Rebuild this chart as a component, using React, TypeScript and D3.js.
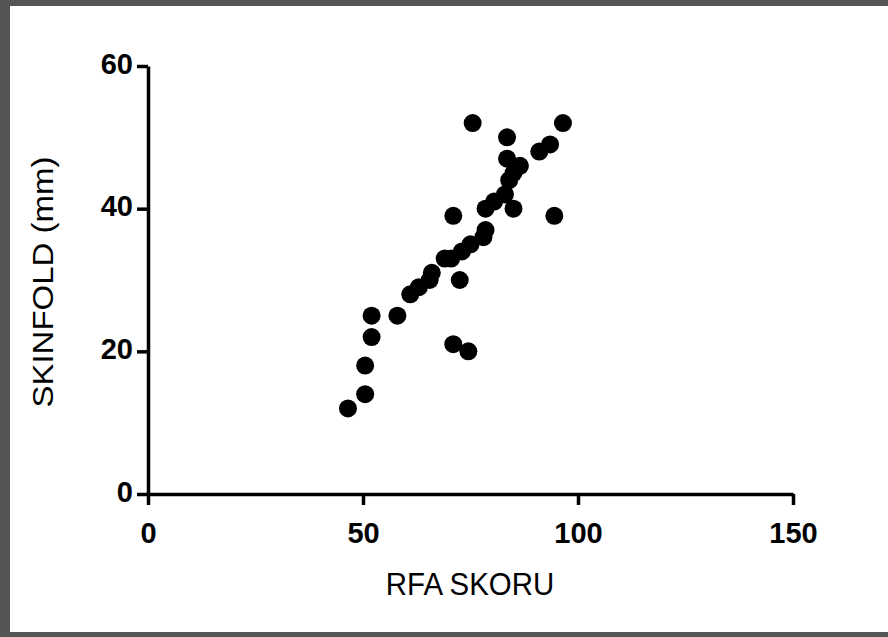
import React, { useEffect, useRef } from "react";
import * as d3 from "d3";

// RFA score vs skinfold thickness
const rfaScore = [
  46.5, 50.5, 50.5, 52, 52, 58, 61, 63, 65.5, 66, 69, 70.5, 72.5, 71, 71, 74.5,
  73, 75, 78, 78.5, 78.5, 80.5, 83, 85, 83.5, 83.5, 75.5, 85, 86.5, 91, 93.5,
  96.5, 94.5, 84,
];
const skinfold = [
  12, 14, 18, 22, 25, 25, 28, 29, 30, 31, 33, 33, 30, 39, 21, 20, 34, 35, 36,
  37, 40, 41, 42, 40, 47, 50, 52, 45, 46, 48, 49, 52, 39, 44,
];
const xTicks = [0, 50, 100, 150];
const yTicks = [0, 20, 40, 60];
const xTitle = "RFA SKORU";
const yTitle = "SKINFOLD (mm)";

const W = 888;
const H = 637;

const App: React.FC = () => {
  const ref = useRef<SVGSVGElement | null>(null);

  useEffect(() => {
    const svg = d3.select(ref.current);
    svg.selectAll("*").remove();

    const x = d3.scaleLinear().domain([0, 150]).range([148, 793]);
    const y = d3.scaleLinear().domain([0, 60]).range([494, 66]);
    const font = "Arial, 'Liberation Sans', sans-serif";

    svg.append("rect").attr("width", W).attr("height", H).attr("fill", "#fff");

    // frame
    const frame = svg.append("g").attr("fill", "#555");
    frame.append("rect").attr("x", 0).attr("y", 0).attr("width", W).attr("height", 6);
    frame.append("rect").attr("x", 0).attr("y", 0).attr("width", 10).attr("height", H);
    frame.append("rect").attr("x", 0).attr("y", H - 5).attr("width", W).attr("height", 5);

    // axes
    const xAxis = svg
      .append("g")
      .attr("transform", `translate(0,${y(0)})`)
      .call(d3.axisBottom(x).tickValues(xTicks).tickSize(11).tickPadding(10).tickSizeOuter(0));
    const yAxis = svg
      .append("g")
      .attr("transform", `translate(${x(0)},0)`)
      .call(d3.axisLeft(y).tickValues(yTicks).tickSize(11).tickPadding(4).tickSizeOuter(0));

    [xAxis, yAxis].forEach((g) => {
      g.select(".domain").attr("stroke", "#000").attr("stroke-width", 3.5);
      g.selectAll(".tick line").attr("stroke", "#000").attr("stroke-width", 3.5);
      g.selectAll("text")
        .attr("fill", "#000")
        .style("font-family", font)
        .style("font-weight", "bold")
        .style("font-size", "29px");
    });
    xAxis.selectAll(".tick text").attr("dy", "0.95em");
    yAxis.selectAll(".tick text").attr("dy", "0.25em");

    // points
    svg
      .append("g")
      .selectAll("circle")
      .data(rfaScore.map((v, i) => [v, skinfold[i]]))
      .join("circle")
      .attr("cx", (d) => x(d[0]))
      .attr("cy", (d) => y(d[1]))
      .attr("r", 9)
      .attr("fill", "#000");

    // titles
    svg
      .append("text")
      .attr("transform", `translate(470,595) scale(0.92,1)`)
      .attr("text-anchor", "middle")
      .style("font-family", font)
      .style("font-size", "32px")
      .attr("fill", "#000")
      .text(xTitle);
    svg
      .append("text")
      .attr("transform", `translate(53,282) scale(0.88,1) rotate(-90)`)
      .attr("text-anchor", "middle")
      .style("font-family", font)
      .style("font-size", "33px")
      .attr("fill", "#000")
      .text(yTitle);
  }, []);

  return (
    <div style={{ position: "absolute", left: 0, top: 0 }}>
      <svg ref={ref} width={W} height={H} style={{ display: "block" }} />
    </div>
  );
};

export default App;
